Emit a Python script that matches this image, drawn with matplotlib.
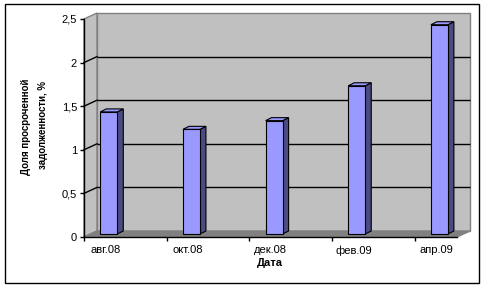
import numpy as np
import matplotlib
matplotlib.use("Agg")
import matplotlib.pyplot as plt
from matplotlib.patches import Polygon, Rectangle

# ---- data ----
categories = ["авг.08", "окт.08", "дек.08", "фев.09", "апр.09"]
values = [1.4, 1.2, 1.3, 1.7, 2.4]
y_ticks = [0, 0.5, 1, 1.5, 2, 2.5]
y_tick_labels = ["0", "0,5", "1", "1,5", "2", "2,5"]
x_title = "Дата"
y_title_1 = "Доля просроченной"
y_title_2 = "задолженности, %"

plt.rcParams['font.family'] = ['Liberation Sans', 'DejaVu Sans']

W, H, DPI = 486, 288, 100
fig = plt.figure(figsize=(W / DPI, H / DPI), dpi=DPI)

# front plane of the 3D box, in pixels
ax_l, ax_r, ax_t, ax_b = 84, 457, 19, 237
ax = fig.add_axes([ax_l / W, (H - ax_b) / H, (ax_r - ax_l) / W, (ax_b - ax_t) / H])
ax.set_facecolor('none')

px_x = 82.65  # pixels per category
x0 = -0.3
x1 = x0 + (ax_r - ax_l) / px_x
y0, y1 = 0, 2.5
ax.set_xlim(x0, x1)
ax.set_ylim(y0, y1)
px_y = (ax_b - ax_t) / (y1 - y0)

def dx(p):
    return p / px_x

def dy(p):
    return p / px_y

# wall depth
wdx, wdy = dx(13), dy(6)
wall_c = '#C0C0C0'
edge_c = '#808080'

# back wall
ax.add_patch(Rectangle((x0 + wdx, y0 + wdy), x1 - x0, y1 - y0, facecolor=wall_c,
                       edgecolor=edge_c, lw=1, clip_on=False, zorder=1))
# left wall
ax.add_patch(Polygon([(x0, y0), (x0, y1), (x0 + wdx, y1 + wdy), (x0 + wdx, y0 + wdy)],
                     closed=True, facecolor=wall_c, edgecolor=edge_c, lw=1,
                     clip_on=False, zorder=1))
# floor
ax.add_patch(Polygon([(x0, y0), (x1, y0), (x1 + wdx, y0 + wdy), (x0 + wdx, y0 + wdy)],
                     closed=True, facecolor='#808080', edgecolor='#808080', lw=1,
                     clip_on=False, zorder=1.5))

# gridlines on back wall + diagonals on left wall
for yv in y_ticks[1:-1]:
    ax.plot([x0 + wdx, x1 + wdx], [yv + wdy, yv + wdy], color='black', lw=1,
            clip_on=False, zorder=2, solid_capstyle='butt')
    ax.plot([x0, x0 + wdx], [yv, yv + wdy], color='black', lw=1,
            clip_on=False, zorder=2)

# bars
idx = np.arange(len(categories))
bw = dx(17)
bdx, bdy = dx(6), dy(3)
base = dy(3)
front_c = '#9999FF'
side_c = '#4B4B82'
ax.bar(idx, values, width=bw, bottom=base, color=front_c, edgecolor='black',
       lw=0.8, zorder=4, clip_on=False)
for xi, v in zip(idx, values):
    xr = xi + bw / 2
    xl = xi - bw / 2
    ax.add_patch(Polygon([(xr, base), (xr, base + v), (xr + bdx, base + v + bdy), (xr + bdx, base + bdy)],
                         closed=True, facecolor=side_c, edgecolor='black', lw=0.8,
                         clip_on=False, zorder=3.9))
    ax.add_patch(Polygon([(xl, base + v), (xr, base + v), (xr + bdx, base + v + bdy), (xl + bdx, base + v + bdy)],
                         closed=True, facecolor=front_c, edgecolor='black', lw=0.8,
                         clip_on=False, zorder=3.9))

# axes
for s in ['top', 'right']:
    ax.spines[s].set_visible(False)
for s in ['left', 'bottom']:
    ax.spines[s].set_color('black')
    ax.spines[s].set_linewidth(1)
    ax.spines[s].set_zorder(5)

ax.set_yticks(y_ticks)
ax.set_yticklabels(y_tick_labels)
ax.tick_params(axis='y', direction='out', length=3, width=1, pad=2, labelsize=8, colors='black')

ax.set_xticks(idx - 0.04)
ax.set_xticklabels(categories)
ax.set_xticks(idx - 0.3, minor=True)
ax.tick_params(axis='x', which='major', length=0, pad=6, labelsize=8)
ax.tick_params(axis='x', which='minor', direction='out', length=3, width=1)

fig.text(270 / W, 1 - 263 / H, x_title, ha='center', va='center', fontsize=8, fontweight='bold')
fig.text(26 / W, 1 - 127 / H, y_title_1, ha='center', va='center', rotation=90,
         fontsize=7, fontweight='bold')
fig.text(43 / W, 1 - 125 / H, y_title_2, ha='center', va='center', rotation=90,
         fontsize=7, fontweight='bold')

# outer frame
fig.add_artist(Rectangle((5 / W, 1 - 283 / H), 474 / W, 279 / H, transform=fig.transFigure,
                         fill=False, edgecolor='black', lw=1))

fig.savefig('out.png', dpi=DPI, facecolor='white')
